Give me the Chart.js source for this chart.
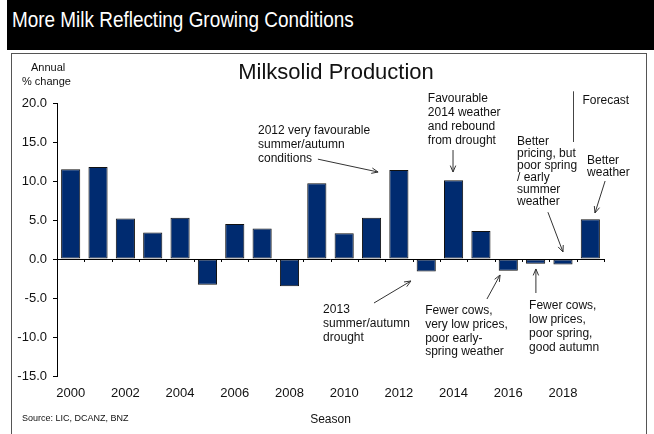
<!DOCTYPE html>
<html>
<head>
<meta charset="utf-8">
<script src="https://cdn.jsdelivr.net/npm/chart.js@4/dist/chart.umd.min.js"></script>
<style>
  body { margin: 0; background: #fff; font-family: "Liberation Sans", Arial, sans-serif; }
  #wrap { position: relative; width: 654px; height: 434px; overflow: hidden; }
  #header { position: absolute; left: 7px; top: 0; width: 647px; height: 50px; background: #000;
            color: #fff; font-size: 22px; line-height: 40px; padding-left: 5px; box-sizing: border-box; }
  #header span { display: inline-block; transform: scaleX(0.86); transform-origin: left center; white-space: nowrap; }
  #frame { position: absolute; left: 11px; top: 53px; width: 634px; height: 400px; border: 1px solid #555; }
  #chart { position: absolute; left: 0; top: 0; }
</style>
</head>
<body>
<div id="wrap">
  <div id="header"><span>More Milk Reflecting Growing Conditions</span></div>
  <div id="frame"></div>
  <canvas id="chart" width="654" height="434"></canvas>
</div>
<script>
// Annual % change in milksolid production by season
const seasons = ['2000', '2001', '2002', '2003', '2004', '2005', '2006', '2007', '2008', '2009',
                 '2010', '2011', '2012', '2013', '2014', '2015', '2016', '2017', '2018', '2019'];
const pctChange = [11.5, 11.8, 5.2, 3.4, 5.3, -3.3, 4.5, 3.9, -3.5, 9.7,
                   3.3, 5.3, 11.4, -1.6, 10.1, 3.6, -1.5, -0.6, -0.7, 5.1];
const yTicks = [-15, -10, -5, 0, 5, 10, 15, 20];

// notes placed in data units: x = season index, y = % change
const notes = [
  { lines: ['2012 very favourable', 'summer/autumn', 'conditions'], x: 6.85, y: 16.5, lh: 14, from: [9.04, 12.8], to: [11.24, 11.15] },
  { lines: ['Favourable', '2014 weather', 'and rebound', 'from drought'], x: 13.06, y: 20.5, lh: 14, from: [13.98, 13.97], to: [13.98, 11.15] },
  { lines: ['Better', 'pricing, but', 'poor spring', '/ early', 'summer', 'weather'], x: 16.32, y: 15.1, lh: 12, from: [17.45, 6.0], to: [18.0, 0.9] },
  { lines: ['Better', 'weather'], x: 18.88, y: 12.55, lh: 11.5, from: [19.54, 10.0], to: [19.17, 5.9] },
  { lines: ['2013', 'summer/autumn', 'drought'], x: 9.23, y: -6.55, lh: 14, from: [11.09, -5.64], to: [12.44, -2.82] },
  { lines: ['Fewer cows,', 'very low prices,', 'poor early-', 'spring weather'], x: 12.96, y: -6.67, lh: 13.7, from: [15.22, -5.13], to: [15.7, -2.05] },
  { lines: ['Fewer cows,', 'low prices,', 'poor spring,', 'good autumn'], x: 16.76, y: -6.03, lh: 14, from: [17.01, -4.36], to: [17.01, -1.28] }
];

// zero line ticks, forecast divider and the arrowed notes
const notesPlugin = {
  id: 'notes',
  afterDatasetsDraw(chart) {
    const ctx = chart.ctx;
    const xs = chart.scales.x;
    const ys = chart.scales.y;
    const y0 = ys.getPixelForValue(0);
    ctx.save();
    ctx.strokeStyle = '#000';
    ctx.lineWidth = 1;
    ctx.beginPath();
    ctx.moveTo(xs.left, Math.round(y0) + 0.5);
    ctx.lineTo(xs.right, Math.round(y0) + 0.5);
    for (let i = 1; i <= seasons.length; i++) {
      const px = Math.round(xs.getPixelForValue(i - 0.5)) + 0.5;
      ctx.moveTo(px, y0);
      ctx.lineTo(px, y0 + 3);
    }
    ctx.stroke();

    // forecast divider
    const fx = Math.round(xs.getPixelForValue(18.35)) + 0.5;
    ctx.strokeStyle = '#444';
    ctx.beginPath();
    ctx.moveTo(fx, ys.getPixelForValue(21.5));
    ctx.lineTo(fx, ys.getPixelForValue(15.0));
    ctx.stroke();
    ctx.fillStyle = '#111';
    ctx.font = '12px "Liberation Sans", Arial, sans-serif';
    ctx.textBaseline = 'middle';
    ctx.fillText('Forecast', fx + 9, ys.getPixelForValue(20.3));

    notes.forEach(n => {
      const tx = xs.getPixelForValue(n.x);
      let ty = ys.getPixelForValue(n.y);
      n.lines.forEach(line => {
        ctx.fillText(line, tx, ty);
        ty += n.lh;
      });
      const ax = xs.getPixelForValue(n.from[0]), ay = ys.getPixelForValue(n.from[1]);
      const bx = xs.getPixelForValue(n.to[0]), by = ys.getPixelForValue(n.to[1]);
      const ang = Math.atan2(by - ay, bx - ax);
      ctx.strokeStyle = '#333';
      ctx.beginPath();
      ctx.moveTo(ax, ay);
      ctx.lineTo(bx, by);
      ctx.moveTo(bx - 7 * Math.cos(ang - 0.4), by - 7 * Math.sin(ang - 0.4));
      ctx.lineTo(bx, by);
      ctx.lineTo(bx - 7 * Math.cos(ang + 0.4), by - 7 * Math.sin(ang + 0.4));
      ctx.stroke();
    });

    // corner texts
    ctx.font = '11px "Liberation Sans", Arial, sans-serif';
    ctx.fillText('Annual', 31, 68);
    ctx.fillText('% change', 22, 82);
    ctx.font = '9px "Liberation Sans", Arial, sans-serif';
    ctx.fillText('Source: LIC, DCANZ, BNZ', 22, 419);
    ctx.font = '12px "Liberation Sans", Arial, sans-serif';
    ctx.textAlign = 'center';
    ctx.fillText('Season', xs.getPixelForValue(9.5), 420);
    ctx.font = '22px "Liberation Sans", Arial, sans-serif';
    ctx.fillText('Milksolid Production', 336, 73);
    ctx.restore();
  }
};

new Chart(document.getElementById('chart'), {
  type: 'bar',
  data: {
    labels: seasons,
    datasets: [{
      data: pctChange,
      backgroundColor: '#002b70',
      borderColor: '#111',
      borderWidth: 1,
      borderSkipped: false,
      barPercentage: 0.7,
      categoryPercentage: 1.0
    }]
  },
  options: {
    responsive: false,
    animation: false,
    layout: { padding: { left: 0, top: 103, right: 50, bottom: 0 } },
    plugins: { legend: { display: false }, tooltip: { enabled: false } },
    scales: {
      x: {
        grid: { display: false },
        border: { display: false },
        ticks: {
          color: '#111',
          font: { family: '"Liberation Sans", Arial, sans-serif', size: 13 },
          padding: 2,
          autoSkip: false,
          maxRotation: 0,
          callback: function (val, i) { return i % 2 === 0 ? seasons[i] : ''; }
        },
        afterFit: function (s) { s.height = 58; }
      },
      y: {
        min: -15,
        max: 20,
        afterBuildTicks: function (s) { s.ticks = yTicks.map(v => ({ value: v })); },
        grid: { drawOnChartArea: false, tickLength: 4, tickColor: '#000' },
        border: { color: '#000' },
        ticks: {
          color: '#111',
          font: { family: '"Liberation Sans", Arial, sans-serif', size: 13 },
          padding: 6,
          callback: function (v) { return v.toFixed(1); }
        },
        afterFit: function (s) { s.width = 57; }
      }
    }
  },
  plugins: [notesPlugin]
});
</script>
</body>
</html>
